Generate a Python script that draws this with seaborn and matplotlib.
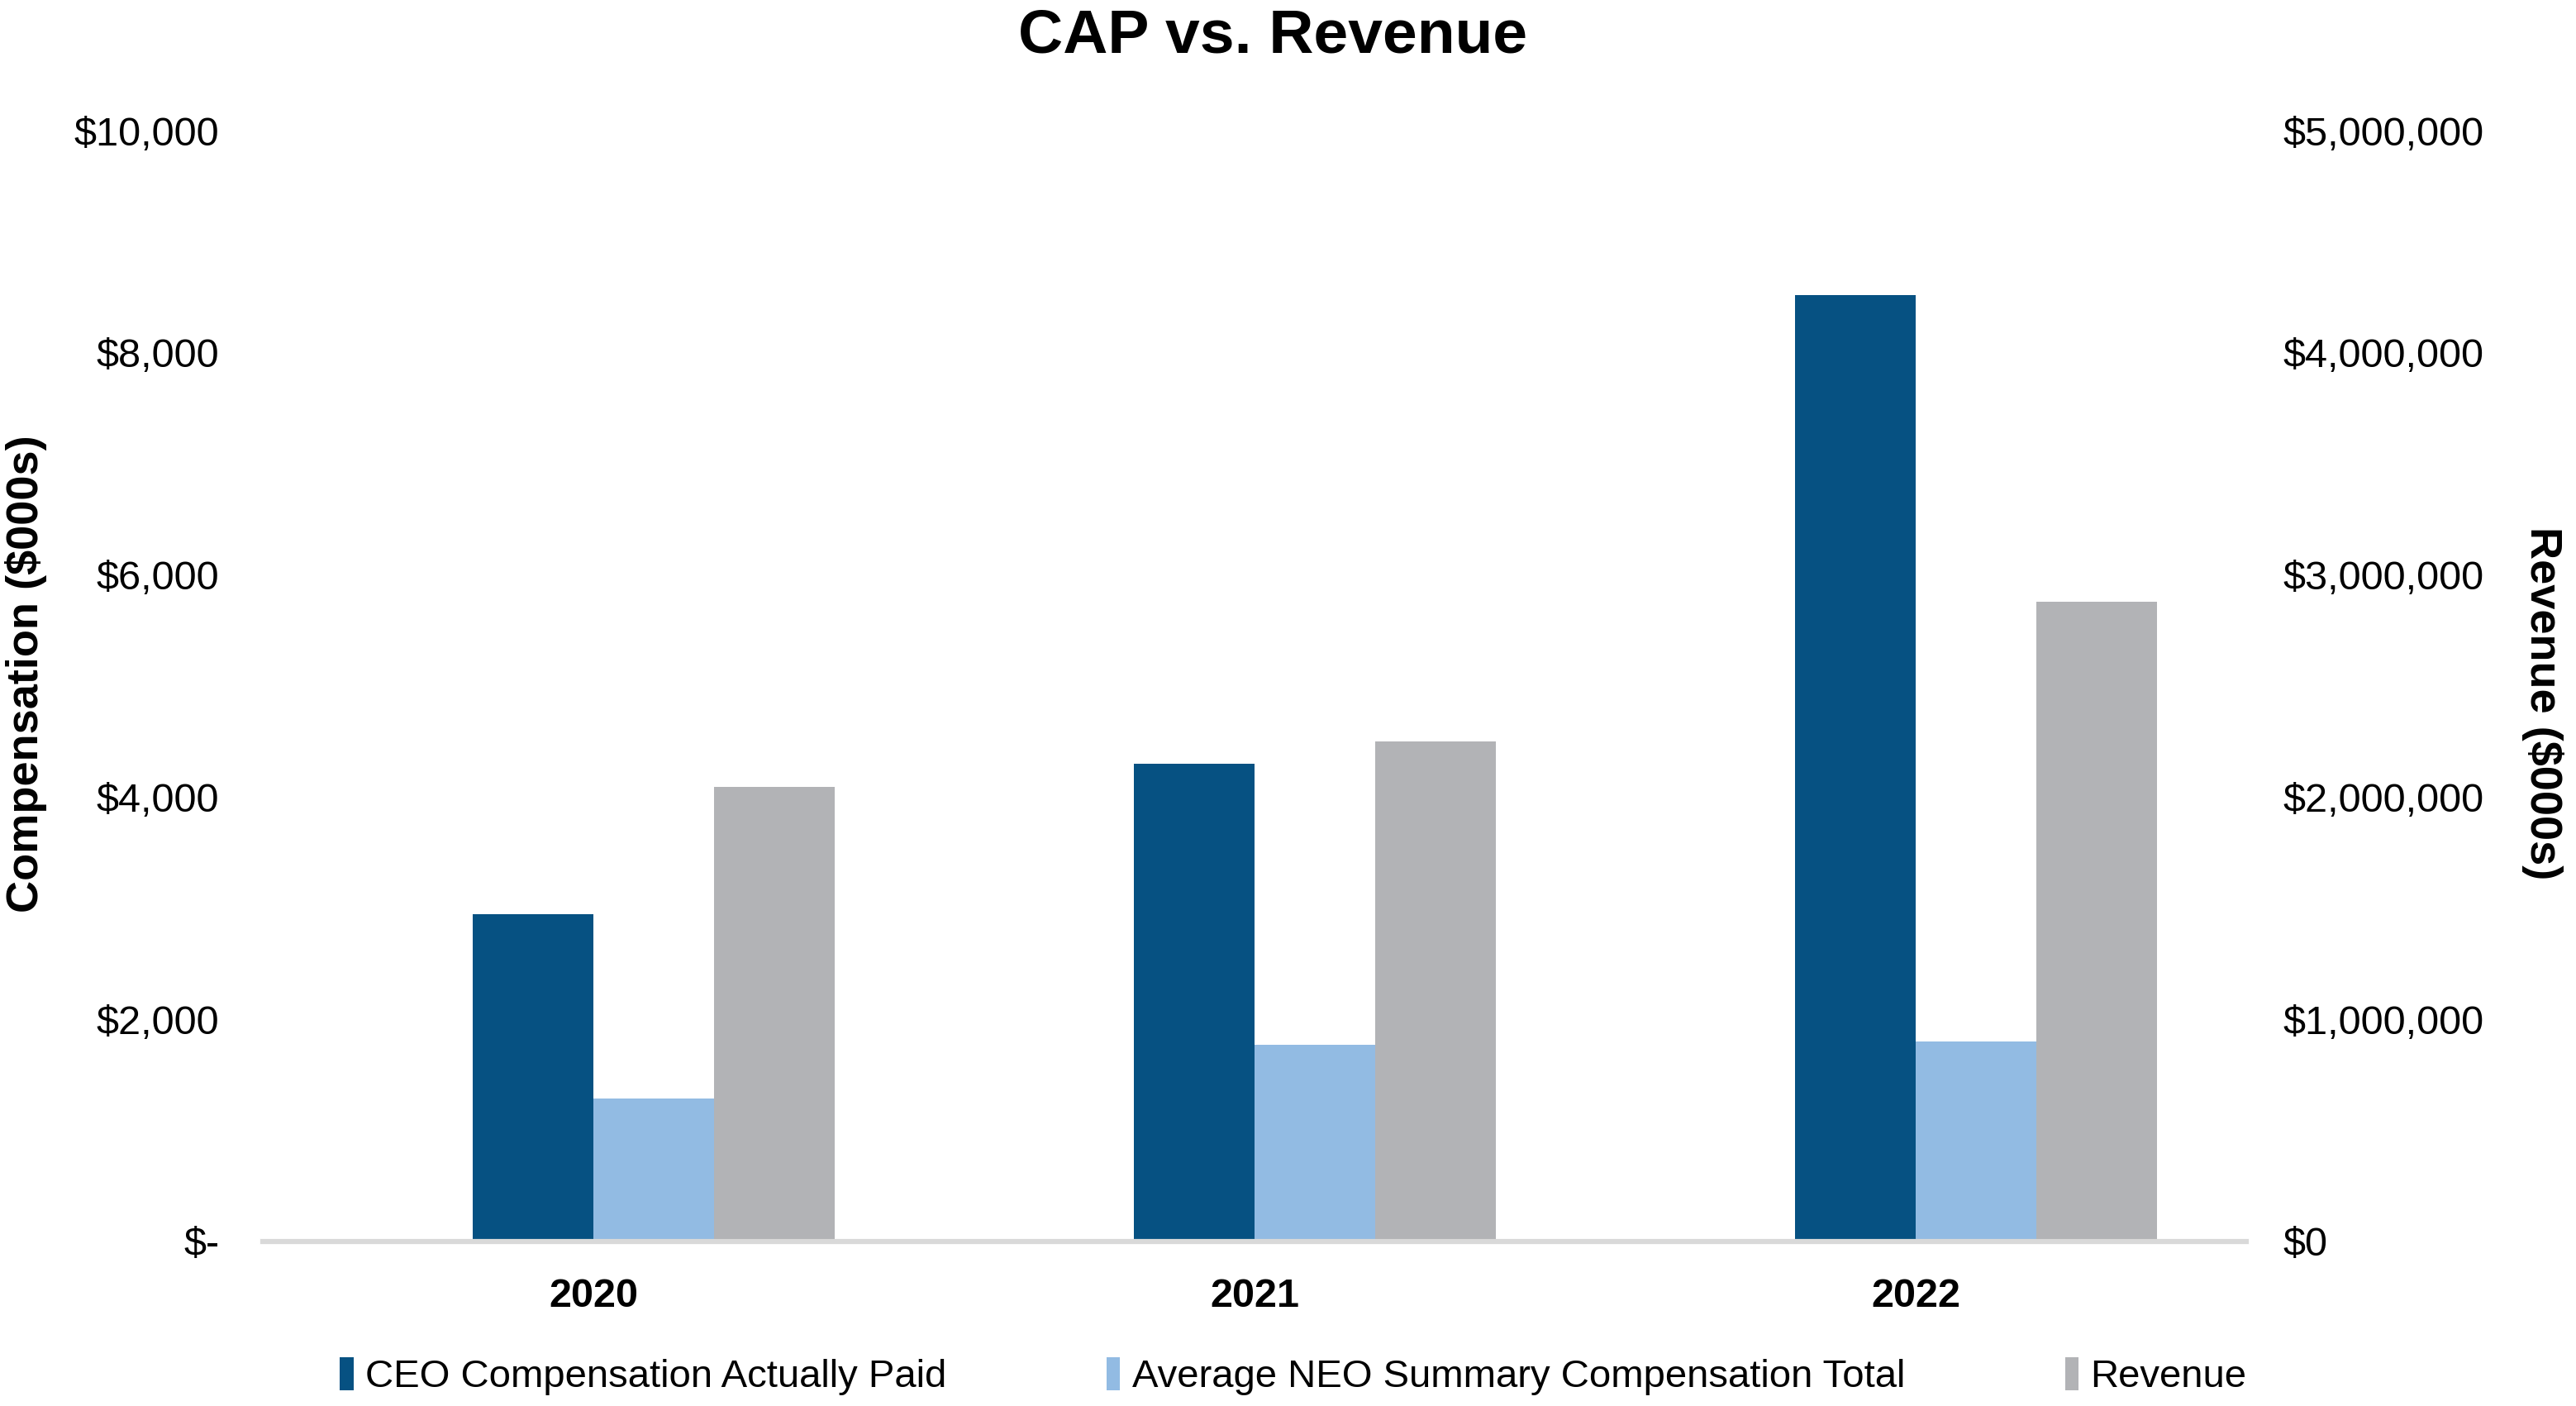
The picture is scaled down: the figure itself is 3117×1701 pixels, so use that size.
import pandas as pd
import matplotlib.pyplot as plt
import matplotlib.ticker as mticker
import seaborn as sns

# 데이터 (그림에서 읽은 값, $000s)
years = ['2020', '2021', '2022']
ceo_cap = [2950, 4300, 8520]
neo_avg = [1285, 1770, 1800]
revenue = [2046000, 2252000, 2880000]

series_names = ['_pad', 'CEO Compensation Actually Paid',
                'Average NEO Summary Compensation Total', 'Revenue']
colors = {'_pad': 'white',
          'CEO Compensation Actually Paid': '#065182',
          'Average NEO Summary Compensation Total': '#92BBE3',
          'Revenue': '#B2B3B6'}

rows = []
for i, y in enumerate(years):
    rows.append({'year': y, 'series': '_pad', 'comp': 0.0, 'rev': 0.0})
    rows.append({'year': y, 'series': series_names[1], 'comp': ceo_cap[i], 'rev': 0.0})
    rows.append({'year': y, 'series': series_names[2], 'comp': neo_avg[i], 'rev': 0.0})
    rows.append({'year': y, 'series': series_names[3], 'comp': 0.0, 'rev': revenue[i]})
df = pd.DataFrame(rows)

sns.set_style('white')
plt.rcParams['font.family'] = ['Liberation Sans Narrow', 'Liberation Sans', 'DejaVu Sans']
plt.rcParams['text.color'] = 'black'
plt.rcParams['xtick.color'] = 'black'
plt.rcParams['ytick.color'] = 'black'

fig = plt.figure(figsize=(15.585, 8.505), dpi=200)
ax = fig.add_axes([0.102, 0.117, 0.770, 0.790])
ax2 = ax.twinx()

sns.barplot(df, x='year', y='comp', hue='series', hue_order=series_names,
            palette=colors, width=0.73, gap=0, ax=ax, legend=True,
            saturation=1, errorbar=None, linewidth=0)
sns.barplot(df, x='year', y='rev', hue='series', hue_order=series_names,
            palette=colors, width=0.73, gap=0, ax=ax2, legend=True,
            saturation=1, errorbar=None, linewidth=0)

h1, l1 = ax.get_legend_handles_labels()
h2, l2 = ax2.get_legend_handles_labels()
ax.get_legend().remove()
ax2.get_legend().remove()
handles = [h1[l1.index(series_names[1])], h1[l1.index(series_names[2])],
           h2[l2.index(series_names[3])]]
labels = series_names[1:]

ax.set_xlim(-0.5, 2.5)
ax.set_ylim(0, 10000)
ax2.set_ylim(0, 5000000)
ax.yaxis.set_major_locator(mticker.MultipleLocator(2000))
ax2.yaxis.set_major_locator(mticker.MultipleLocator(1000000))
ax.yaxis.set_major_formatter(mticker.FuncFormatter(lambda v, p: '$-' if v == 0 else f'${v:,.0f}'))
ax2.yaxis.set_major_formatter(mticker.FuncFormatter(lambda v, p: f'${v:,.0f}'))

for a in (ax, ax2):
    for s in ['top', 'left', 'right']:
        a.spines[s].set_visible(False)
    a.spines['bottom'].set_color('#D9D9D9')
    a.spines['bottom'].set_linewidth(2.2)
    a.set_xlabel('')
    a.set_ylabel('')

ax.tick_params(axis='y', length=0, pad=19, labelsize=17.5)
ax2.tick_params(axis='y', length=0, pad=16, labelsize=17.5)
ax.tick_params(axis='x', length=0, pad=16, labelsize=17.5)
for t in ax.get_xticklabels():
    t.set_fontweight('bold')

fig.text(0.010, 0.521, 'Compensation ($000s)', rotation=90, ha='center', va='center',
         fontsize=19.5, fontweight='bold')
fig.text(0.987, 0.500, 'Revenue ($000s)', rotation=270, ha='center', va='center',
         fontsize=19.5, fontweight='bold')
fig.text(0.494, 0.974, 'CAP vs. Revenue', ha='center', va='center',
         fontsize=27, fontweight='bold')

fig.legend(handles, labels, loc='center', bbox_to_anchor=(0.502, 0.021), ncol=3,
           frameon=False, fontsize=17, handlelength=0.35, handleheight=0.9,
           handletextpad=0.3, columnspacing=4.1)

fig.savefig('out.png', dpi=200, facecolor='white')
